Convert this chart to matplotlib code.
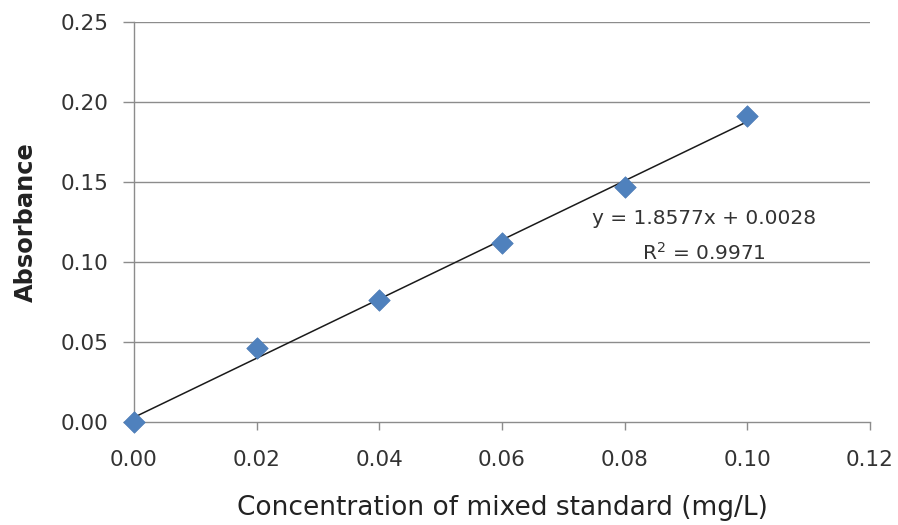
import matplotlib
matplotlib.use("Agg")
import matplotlib.pyplot as plt
import numpy as np

conc = [0.00, 0.02, 0.04, 0.06, 0.08, 0.10]
absorb = [0.000, 0.046, 0.076, 0.112, 0.147, 0.191]
x_ticks = [0.00, 0.02, 0.04, 0.06, 0.08, 0.10, 0.12]
y_ticks = [0.00, 0.05, 0.10, 0.15, 0.20, 0.25]
eq_text = "y = 1.8577x + 0.0028"
r2_text = "R$^2$ = 0.9971"

plt.rcParams['font.family'] = ['DejaVu Sans']
plt.rcParams['mathtext.default'] = 'regular'

fig = plt.figure(figsize=(8.98, 5.25), dpi=100)
ax = fig.add_axes([0.1492, 0.1962, 0.9688 - 0.1492, 0.958 - 0.1962])

grid_c = '#8c8c8c'
for yt in y_ticks[1:]:
    ax.axhline(yt, color=grid_c, lw=1.0, zorder=1)

slope, intercept = np.polyfit(conc, absorb, 1)
xf = np.array([conc[0], conc[-1]])
ax.plot(xf, slope * xf + intercept, color='#1a1a1a', lw=1.1, zorder=3)

ax.scatter(conc, absorb, marker='D', s=120, color='#4F81BD', edgecolors='#4A7AB5',
           linewidths=0.5, zorder=4, clip_on=False)

ax.set_xlim(0, 0.12)
ax.set_ylim(0, 0.25)
ax.set_xticks(x_ticks)
ax.set_yticks(y_ticks)
ax.set_xticklabels([f"{v:.2f}" for v in x_ticks])
ax.set_yticklabels([f"{v:.2f}" for v in y_ticks])

for s in ['top', 'right']:
    ax.spines[s].set_visible(False)
for s in ['left', 'bottom']:
    ax.spines[s].set_color(grid_c)
    ax.spines[s].set_linewidth(1.0)
ax.tick_params(axis='both', colors=grid_c, labelcolor='#333333', labelsize=15.5,
               width=1.0, direction='out')
ax.tick_params(axis='x', length=5.5, pad=15)
ax.tick_params(axis='y', length=8, pad=10.5)

ax.set_xlabel("Concentration of mixed standard (mg/L)", fontsize=19, color='#222222', labelpad=18)
ax.set_ylabel("Absorbance", fontsize=17.4, fontweight='bold', color='#222222', labelpad=16)

ax.text(0.0929, 0.1275, eq_text, ha='center', va='center', fontsize=14.5, color='#333333', zorder=5)
ax.text(0.0929, 0.106, r2_text, ha='center', va='center', fontsize=14.5, color='#333333', zorder=5)

fig.savefig("out.png", dpi=100)
